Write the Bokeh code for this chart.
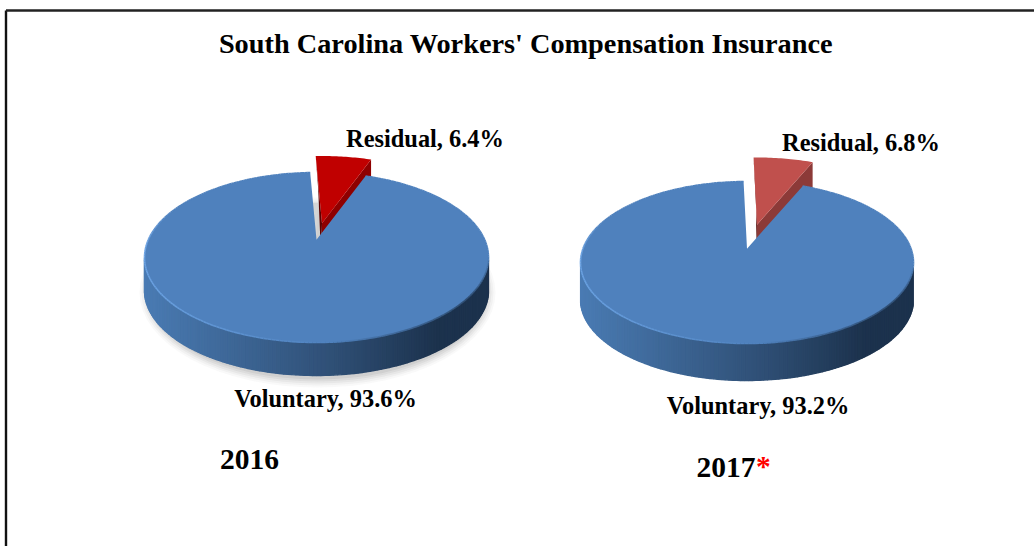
import math
from bokeh.plotting import figure
from bokeh.models import Range1d
from bokeh.core.properties import value
from bokeh.embed import file_html
from bokeh.resources import INLINE

TITLE = "South Carolina Workers' Compensation Insurance"
years = ["2016", "2017"]
categories = ["Voluntary", "Residual"]
voluntary = [93.6, 93.2]
residual = [6.4, 6.8]

# layout of each drawn pie, in page pixels
layouts = [
    dict(cx=316, cy=257, rx=172, ry=85, k=0.21, depth=33, start=-2.6, shift=(5.5, -16.5),
         red="#C00000", red_side="#8E0000", red_left="#5C0000", shadow=True,
         res_xy=(424.5, 137.5), vol_xy=(325, 397.5), year_xy=(249, 458.5), star=False),
    dict(cx=746.5, cy=262, rx=166.5, ry=81, k=0.17, depth=37, start=-1.4, shift=(10, -24),
         red="#C0504D", red_side="#8C3A38", red_left="#6A2C2A", shadow=False,
         res_xy=(860.5, 141.5), vol_xy=(757.5, 404.5), year_xy=(725.5, 466.5), star=True),
]

BLUE = "#4F81BD"
FONT = value("Liberation Serif")


def lerp(c1, c2, t):
    t = max(0.0, min(1.0, t))
    a = [int(c1[i:i + 2], 16) for i in (1, 3, 5)]
    b = [int(c2[i:i + 2], 16) for i in (1, 3, 5)]
    return "#%02x%02x%02x" % tuple(round(x + (y - x) * t) for x, y in zip(a, b))


p = figure(width=1034, height=546, output_backend="svg", toolbar_location=None,
           x_axis_type=None, y_axis_type=None, x_range=Range1d(0, 1034), y_range=Range1d(546, 0),
           min_border=0, outline_line_color=None, tools="")
p.grid.visible = False
p.styles = {"position": "absolute", "left": "0px", "top": "0px"}

# frame of the slide
p.line([5.5, 5.5], [546, 10], line_color="#111111", line_width=2.4)
p.line([5.5, 1034], [10, 10], line_color="#222222", line_width=2.6)

for i, L in enumerate(layouts):
    k = L["k"]
    sx = L["rx"] * math.sqrt(1 - k * k)
    sy = L["ry"] * (1 - k * k)
    ax, ay = L["cx"], L["cy"] - k * L["ry"]

    def proj(theta, sx=sx, sy=sy, ax=ax, ay=ay, k=k):
        u, v = math.sin(math.radians(theta)), math.cos(math.radians(theta))
        w = 1 + k * v
        return ax + sx * u / w, ay - sy * v / w

    a0 = L["start"]
    a1 = a0 + residual[i] * 3.6
    a2 = a0 + (residual[i] + voluntary[i]) * 3.6
    d = L["depth"]

    # soft shadow
    if L["shadow"]:
        for g, al in ((9, 0.05), (7, 0.07), (5, 0.09), (3, 0.12), (1, 0.14)):
            p.ellipse([L["cx"] + 1], [L["cy"] + d + 2],
                      width=2 * (L["rx"] + g - 3), height=2 * (L["ry"] + g + 1),
                      fill_color="#8a8a8a", fill_alpha=al, line_color=None)
        # shadow of the pulled-out slice, seen through the gap
        gx, gy = proj(a0)
        p.patch([ax, ax + (gx - ax) * 0.55, ax + (gx - ax) * 0.55 + 5],
                [ay, ay + (gy - ay) * 0.55, ay + (gy - ay) * 0.55],
                fill_color="#D5D5D5", line_color=None)

    # exploded residual slice: side faces, then its top face
    dx, dy = L["shift"]
    rarc = [proj(a0 + (a1 - a0) * j / 24) for j in range(25)]
    rarc = [(x + dx, y + dy) for x, y in rarc]
    rapex = (ax + dx, ay + dy)
    p.patch([rapex[0], rarc[-1][0], rarc[-1][0], rapex[0]],
            [rapex[1], rarc[-1][1], rarc[-1][1] + d, rapex[1] + d],
            fill_color=L["red_side"], line_color=None)
    p.patch([rarc[0][0], rapex[0], rapex[0] - 1, rarc[0][0] + 2.5],
            [rarc[0][1], rapex[1], rapex[1] + d, rarc[0][1] + d],
            fill_color=L["red_left"], line_color=None)
    p.patch([rapex[0]] + [q[0] for q in rarc], [rapex[1]] + [q[1] for q in rarc],
            fill_color=L["red"], line_color=None)

    # voluntary slice: the rim's side strips
    thetas = [a1 + (a2 - a1) * j / 300 for j in range(301)]
    pts = [proj(t) for t in thetas]
    left, right = L["cx"] - L["rx"], L["cx"] + L["rx"]
    for j in range(len(pts) - 1):
        t = thetas[j]
        if 103 < t < 257:
            (x0, y0), (x1, y1) = pts[j], pts[j + 1]
            f = ((x0 + x1) / 2 - left) / (right - left)
            col = lerp("#4A7BB3", "#2F4F75", f / 0.55) if f < 0.55 else lerp("#2F4F75", "#1C324D", (f - 0.55) / 0.3)
            p.patch([x0, x1, x1, x0], [y0, y1, y1 + d, y0 + d], fill_color=col, line_color=col, line_width=1.4)

    # voluntary slice: top face
    p.patch([ax] + [q[0] for q in pts], [ay] + [q[1] for q in pts],
            fill_color=BLUE, line_color=None)

    # the rim: plain at the back of the pie, light to the front left, dark to the front right
    for j in range(len(pts) - 1):
        t = thetas[j]
        (x0, y0), (x1, y1) = pts[j], pts[j + 1]
        f = (x0 - left) / (right - left)
        col = lerp("#6BA2E2", BLUE, f / 0.55) if f < 0.55 else lerp(BLUE, "#2E4C70", (f - 0.55) / 0.4)
        if t > 265:
            col = lerp(col, BLUE, (t - 265) / 27)
        if t < 130:
            col = lerp(BLUE, col, (t - 100) / 30)
        p.line([x0, x1], [y0, y1], line_color=col, line_width=1.6)

    # labels
    for lbl, val, xy in (("Residual", residual[i], L["res_xy"]), ("Voluntary", voluntary[i], L["vol_xy"])):
        p.text([xy[0]], [xy[1]], text=[f"{lbl}, {val}%"], text_font=FONT, text_font_style="bold",
               text_font_size="24.4px", text_color="#000000", text_align="center", text_baseline="middle")
    yx, yy = L["year_xy"]
    p.text([yx], [yy], text=[years[i]], text_font=FONT, text_font_style="bold", text_font_size="29.5px",
           text_color="#000000", text_align="center", text_baseline="middle")
    if L["star"]:
        p.text([yx + 30], [yy - 1], text=["*"], text_font=FONT, text_font_style="bold", text_font_size="29.5px",
               text_color="#FF0000", text_align="left", text_baseline="middle")

p.text([525.5], [43], text=[TITLE], text_font=FONT, text_font_style="bold", text_font_size="28.3px",
       text_color="#000000", text_align="center", text_baseline="middle")

open("out.html", "w").write(file_html(p, INLINE))
